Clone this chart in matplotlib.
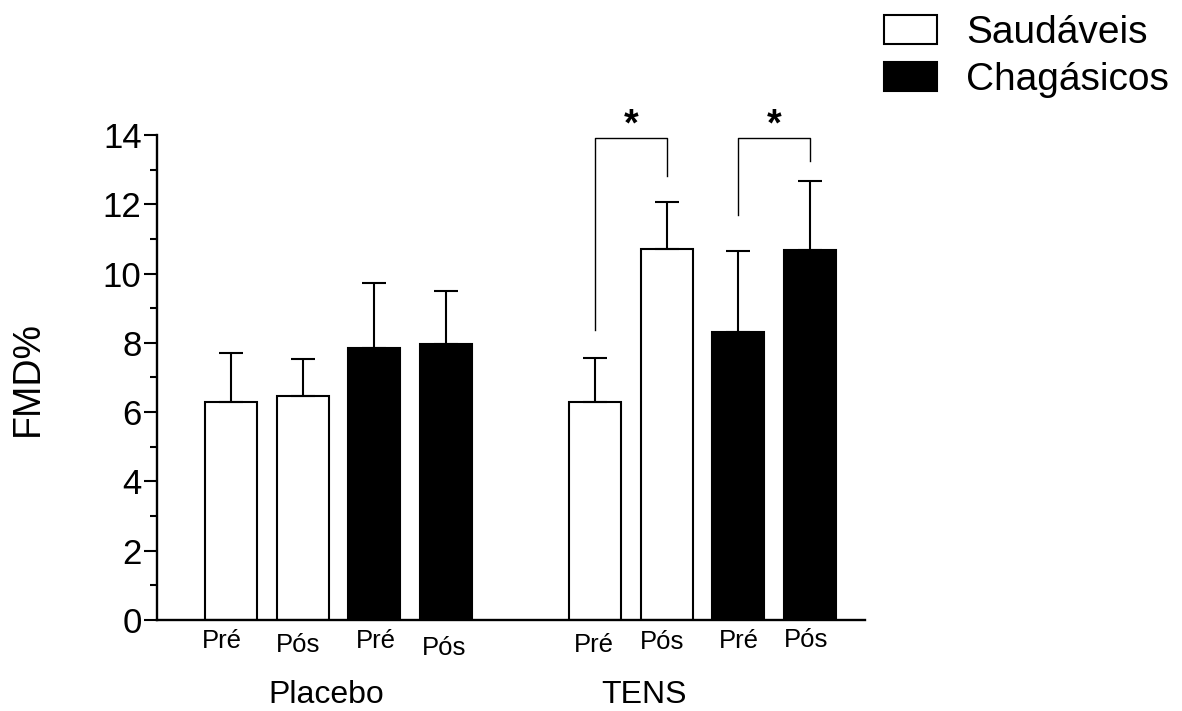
import matplotlib
matplotlib.use("Agg")
import matplotlib.pyplot as plt
import numpy as np

plt.rcParams['font.family'] = ['Liberation Sans', 'DejaVu Sans']

# ---------------- data ----------------
conditions = ['Placebo', 'TENS']
times = ['Pré', 'Pós']
groups = ['Saudáveis', 'Chagásicos']

# order within each group array: Placebo Pré, Placebo Pós, TENS Pré, TENS Pós
saud_mean = [6.29, 6.47, 6.29, 10.71]
saud_err = [1.41, 1.06, 1.27, 1.36]
chag_mean = [7.86, 7.96, 8.32, 10.68]
chag_err = [1.86, 1.53, 2.32, 1.98]

bar_labels = ['Pré', 'Pós', 'Pré', 'Pós', 'Pré', 'Pós', 'Pré', 'Pós']
sig_text = '*'

# ---------------- layout ----------------
cond_start = [1.0, 6.07]
saud_x = [cond_start[0], cond_start[0] + 1, cond_start[1], cond_start[1] + 1]
chag_x = [cond_start[0] + 2, cond_start[0] + 3, cond_start[1] + 2, cond_start[1] + 3]
width = 0.725

fig = plt.figure(figsize=(11.82, 7.11), dpi=100)
ax = fig.add_axes([0.13257, 0.12799, 0.59924, 0.68214])

err_kw = dict(ecolor='black', elinewidth=1.5, capsize=8.3, capthick=1.5)
zeros = [0] * 4
b1 = ax.bar(saud_x, saud_mean, width, color='white', edgecolor='black', linewidth=1.5,
            yerr=[zeros, saud_err], error_kw=err_kw, label=groups[0], zorder=2)
b2 = ax.bar(chag_x, chag_mean, width, color='black', edgecolor='black', linewidth=1.5,
            yerr=[zeros, chag_err], error_kw=err_kw, label=groups[1], zorder=2)

ax.set_xlim(-0.035, 9.836)
ax.set_ylim(0, 14)
ax.set_yticks(np.arange(0, 15, 2))
ax.set_yticks(np.arange(1, 14, 2), minor=True)
ax.tick_params(axis='y', which='major', direction='out', length=9.4, width=1.5,
               labelsize=25, pad=1.5)
ax.tick_params(axis='y', which='minor', direction='out', length=5, width=1.5)
ax.set_xticks([])
for s in ['top', 'right']:
    ax.spines[s].set_visible(False)
for s in ['left', 'bottom']:
    ax.spines[s].set_linewidth(1.7)

ax.set_ylabel('FMD%', fontsize=27)
ax.yaxis.set_label_coords(-0.156, 0.497)

# per-bar tick labels (small stagger as in the original)
all_x = [saud_x[0], saud_x[1], chag_x[0], chag_x[1], saud_x[2], saud_x[3], chag_x[2], chag_x[3]]
lab_dx = [-0.13, -0.07, 0.02, -0.03, -0.01, -0.06, 0.01, -0.05]
lab_y = [-0.0577, -0.0660, -0.0577, -0.0722, -0.0660, -0.0598, -0.0577, -0.0557]
xt = ax.get_xaxis_transform()
for x, dx, yy, lab in zip(all_x, lab_dx, lab_y, bar_labels):
    ax.text(x + dx, yy, lab, transform=xt, ha='center', va='baseline',
            fontsize=18.5, family=['Liberation Sans Narrow', 'Liberation Sans', 'DejaVu Sans'])

# condition labels
cond_x = [2.334, 6.756]
for x, lab in zip(cond_x, conditions):
    ax.text(x, -0.172, lab, transform=xt, ha='center', va='baseline', fontsize=23)

# significance brackets
brackets = [
    (saud_x[2], saud_x[3], 8.37, 12.83, 13.92),
    (chag_x[2], chag_x[3], 11.69, 13.26, 13.92),
]
for x0, x1, y0, y1, top in brackets:
    ax.plot([x0, x0, x1, x1], [y0, top, top, y1], color='black', lw=1.0,
            clip_on=False, zorder=3)
    ax.text((x0 + x1) / 2, 13.98, sig_text, ha='center', va='baseline',
            fontsize=27, fontweight='bold', clip_on=False)

leg = fig.legend(handles=[b1, b2], labels=groups, loc='upper left',
                 bbox_to_anchor=(884 / 1182, 1 - 15 / 711), frameon=False,
                 fontsize=28, borderpad=0, borderaxespad=0,
                 handlelength=1.36, handleheight=0.77, handletextpad=0.75,
                 labelspacing=0.27)

fig.savefig('out.png', dpi=100)
